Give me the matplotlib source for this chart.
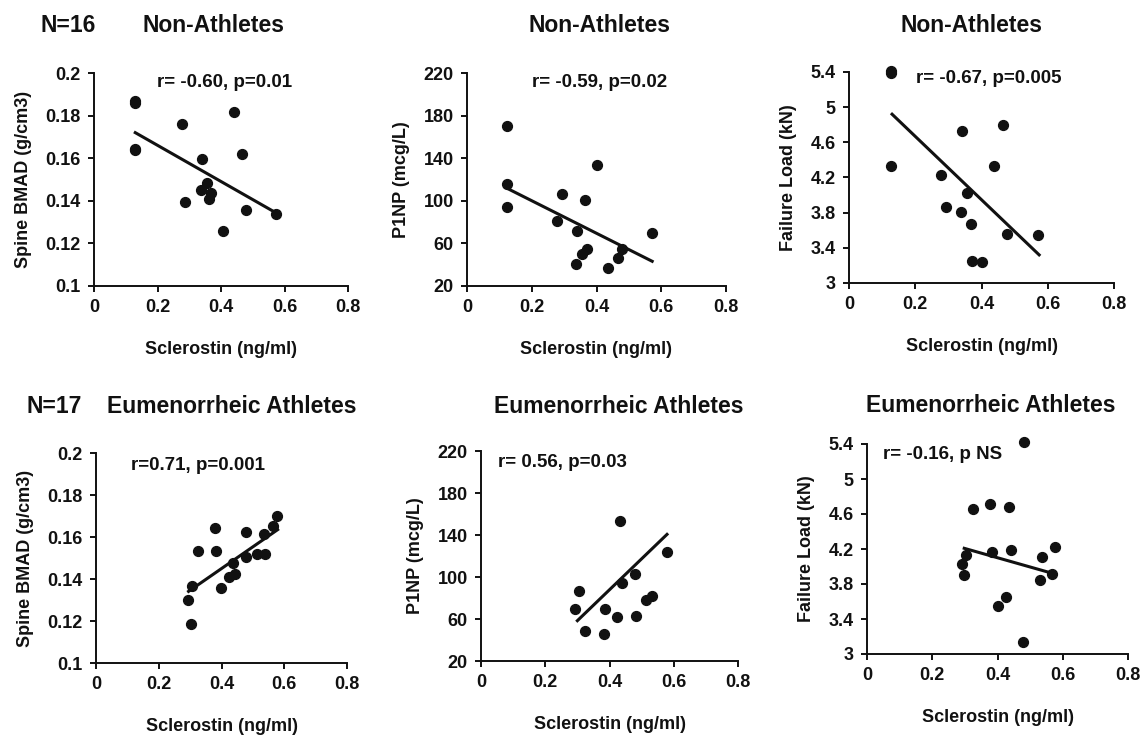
import numpy as np
import matplotlib
matplotlib.use("Agg")
from matplotlib import pyplot as plt

plt.rcParams['font.family'] = ['Liberation Sans', 'DejaVu Sans']
plt.rcParams['font.weight'] = 'bold'

# ---- data ----
# Non-athletes
na_scl_bmad = [0.128, 0.130, 0.128, 0.130, 0.278, 0.441, 0.341, 0.465, 0.357, 0.336, 0.367, 0.362, 0.288, 0.479, 0.572, 0.407]
na_bmad = [0.186, 0.187, 0.1637, 0.1645, 0.176, 0.1815, 0.1598, 0.162, 0.1484, 0.1452, 0.1437, 0.1407, 0.1393, 0.1358, 0.1336, 0.1257]
na_scl_p1np = [0.124, 0.124, 0.124, 0.403, 0.292, 0.365, 0.278, 0.341, 0.572, 0.372, 0.355, 0.479, 0.465, 0.337, 0.437]
na_p1np = [169.9, 116, 94.2, 133.3, 106, 100.4, 81, 71.3, 69.8, 55, 50.4, 55, 46.3, 40.3, 37.2]
na_scl_fl = [0.128, 0.128, 0.128, 0.342, 0.466, 0.437, 0.277, 0.357, 0.292, 0.338, 0.367, 0.478, 0.572, 0.370, 0.403]
na_fl = [5.41, 5.39, 4.334, 4.727, 4.795, 4.334, 4.232, 4.02, 3.866, 3.809, 3.669, 3.563, 3.548, 3.25, 3.234]

# Eumenorrheic athletes
ea_scl_bmad = [0.577, 0.563, 0.380, 0.479, 0.534, 0.325, 0.384, 0.513, 0.540, 0.479, 0.436, 0.442, 0.424, 0.306, 0.398, 0.292, 0.303]
ea_bmad = [0.1702, 0.1651, 0.1643, 0.1622, 0.1616, 0.1535, 0.1532, 0.1521, 0.1521, 0.1503, 0.1476, 0.1424, 0.1408, 0.1365, 0.1357, 0.1298, 0.1186]
ea_scl_p1np = [0.434, 0.578, 0.478, 0.439, 0.305, 0.531, 0.515, 0.294, 0.385, 0.424, 0.482, 0.323, 0.382]
ea_p1np = [153.3, 123.5, 102.9, 94, 86.7, 82.2, 78.1, 69.2, 69.2, 61.6, 63.2, 48.6, 45.4]
ea_scl_fl = [0.482, 0.377, 0.326, 0.434, 0.576, 0.384, 0.440, 0.535, 0.303, 0.292, 0.298, 0.566, 0.530, 0.426, 0.402, 0.478]
ea_fl = [5.423, 4.714, 4.661, 4.68, 4.219, 4.166, 4.185, 4.112, 4.131, 4.025, 3.899, 3.918, 3.846, 3.655, 3.549, 3.141]

# regression line ends (x, y)
fit_na_bmad = ([0.13, 0.575], [0.1720, 0.1342])
fit_na_p1np = ([0.12, 0.572], [112.3, 43.2])
fit_na_fl = ([0.13, 0.574], [4.92, 3.32])
fit_ea_bmad = ([0.295, 0.579], [0.1341, 0.1635])
fit_ea_p1np = ([0.30, 0.579], [58.4, 140.6])
fit_ea_fl = ([0.298, 0.576], [4.208, 3.914])

stats = ["r= -0.60, p=0.01", "r= -0.59, p=0.02", "r= -0.67, p=0.005",
         "r=0.71, p=0.001", "r= 0.56, p=0.03", "r= -0.16, p NS"]

xticks = [0, 0.2, 0.4, 0.6, 0.8]
xtick_labels = ["0", "0.2", "0.4", "0.6", "0.8"]
bmad_ticks = [0.1, 0.12, 0.14, 0.16, 0.18, 0.2]
bmad_labels = ["0.1", "0.12", "0.14", "0.16", "0.18", "0.2"]
p1np_ticks = [20, 60, 100, 140, 180, 220]
fl_ticks = [3, 3.4, 3.8, 4.2, 4.6, 5, 5.4]
fl_labels = ["3", "3.4", "3.8", "4.2", "4.6", "5", "5.4"]

W, H = 1146, 739
fig = plt.figure(figsize=(W / 100, H / 100), dpi=100)

def px_axes(l, r, t, b):
    return fig.add_axes([l / W, 1 - b / H, (r - l) / W, (b - t) / H])

panels = [
    (px_axes(94, 348, 73, 286), na_scl_bmad, na_bmad, fit_na_bmad, bmad_ticks, bmad_labels, "Spine BMAD (g/cm3)", (0.248, 0.934)),
    (px_axes(467, 726, 73, 286), na_scl_p1np, na_p1np, fit_na_p1np, p1np_ticks, [str(t) for t in p1np_ticks], "P1NP (mcg/L)", (0.251, 0.934)),
    (px_axes(849, 1114, 72, 283), na_scl_fl, na_fl, fit_na_fl, fl_ticks, fl_labels, "Failure Load (kN)", (0.253, 0.948)),
    (px_axes(96, 347, 453, 663), ea_scl_bmad, ea_bmad, fit_ea_bmad, bmad_ticks, bmad_labels, "Spine BMAD (g/cm3)", (0.139, 0.919)),
    (px_axes(481, 738, 451, 661), ea_scl_p1np, ea_p1np, fit_ea_p1np, p1np_ticks, [str(t) for t in p1np_ticks], "P1NP (mcg/L)", (0.066, 0.924)),
    (px_axes(867, 1128, 444, 654), ea_scl_fl, ea_fl, fit_ea_fl, fl_ticks, fl_labels, "Failure Load (kN)", (0.061, 0.929)),
]

ink = '#111111'
for i, (ax, xs, ys, fit, yt, ytl, ylab, tpos) in enumerate(panels):
    ax.scatter(xs, ys, s=50, color=ink, zorder=3, clip_on=False)
    ax.plot(fit[0], fit[1], color=ink, lw=2.2, zorder=2)
    ax.set_xlim(0, 0.8)
    ax.set_ylim(yt[0], yt[-1])
    ax.set_xticks(xticks)
    ax.set_xticklabels(xtick_labels)
    ax.set_yticks(yt)
    ax.set_yticklabels(ytl)
    for s in ['top', 'right']:
        ax.spines[s].set_visible(False)
    for s in ['left', 'bottom']:
        ax.spines[s].set_linewidth(1.4)
        ax.spines[s].set_color(ink)
    ax.tick_params(direction='out', length=4.5, width=1.4, color=ink,
                   labelsize=13, labelcolor=ink, pad=5)
    ax.set_xlabel("Sclerostin (ng/ml)", fontsize=13, fontweight='bold', color=ink, labelpad=18)
    ax.set_ylabel(ylab, fontsize=13, fontweight='bold', color=ink, labelpad=10)
    ax.text(tpos[0], tpos[1], stats[i], transform=ax.transAxes, fontsize=13.5,
            fontweight='bold', color=ink, va='baseline', ha='left')

def ftxt(x, y, s):
    fig.text(x / W, 1 - y / H, s, fontsize=16.5, fontweight='bold', color=ink,
             ha='center', va='baseline')

ftxt(68, 32, "N=16")
ftxt(214, 32, "Non-Athletes")
ftxt(599, 32, "Non-Athletes")
ftxt(971, 32, "Non-Athletes")
ftxt(54, 413, "N=17")
ftxt(232, 413, "Eumenorrheic Athletes")
ftxt(619, 413, "Eumenorrheic Athletes")
ftxt(991, 412, "Eumenorrheic Athletes")

fig.savefig("out.png", dpi=100)
